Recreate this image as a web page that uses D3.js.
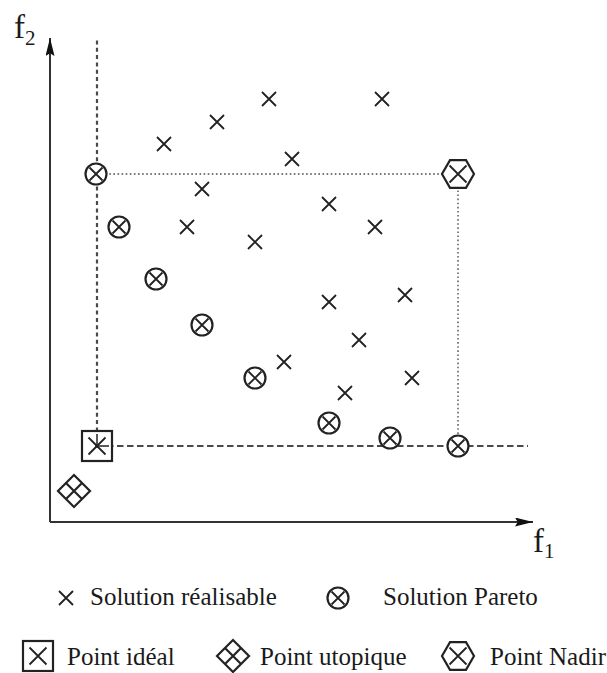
<!DOCTYPE html>
<html>
<head>
<meta charset="utf-8">
<script src="https://cdn.jsdelivr.net/npm/d3@7"></script>
<style>
body { margin: 0; background: #fff; }
svg text { font-family: "Liberation Serif", "Times New Roman", serif; fill: #1a1a1a; }
</style>
</head>
<body>
<script>
var width = 607, height = 673;
var ox = 50, oy = 522; // origin of the axes
var axisLen = 483;

// feasible solutions (f1, f2)
var realisables = [[114,378],[167,400],[219,423],[332,423],[242,363],[152,333],[279,318],[137,295],
                   [205,280],[325,295],[279,220],[355,227],[309,182],[234,160],[362,144],[295,129]];
// Pareto front
var pareto = [[46,348],[69,295],[106,243],[152,197],[205,144],[279,99],[340,84],[408,76]];
var ideal = [47, 76];
var utopique = [24, 31];
var nadir = [408, 348];
var legendLabels = ["Solution réalisable", "Solution Pareto", "Point idéal", "Point utopique", "Point Nadir"];

var x = d3.scaleLinear().domain([0, axisLen]).range([ox, ox + axisLen]);
var y = d3.scaleLinear().domain([0, axisLen]).range([oy, oy - axisLen]);

var svg = d3.select("body").append("svg")
  .attr("width", width).attr("height", height);

var defs = svg.append("defs");
defs.append("marker").attr("id", "fleche")
  .attr("viewBox", "0 0 20 10").attr("refX", 20).attr("refY", 5)
  .attr("markerWidth", 20).attr("markerHeight", 9).attr("markerUnits", "userSpaceOnUse")
  .attr("orient", "auto")
  .append("path").attr("d", "M0,0 L20,5 L0,10 L3,5 Z").attr("fill", "#111");

// axes
svg.append("line").attr("x1", x(0)).attr("y1", y(0)).attr("x2", x(0)).attr("y2", y(axisLen + 1))
  .attr("stroke", "#333").attr("stroke-width", 2).attr("marker-end", "url(#fleche)");
svg.append("line").attr("x1", x(0)).attr("y1", y(0)).attr("x2", x(axisLen)).attr("y2", y(0))
  .attr("stroke", "#333").attr("stroke-width", 2).attr("marker-end", "url(#fleche)");

// axis names: f with its index as a separate text
svg.append("text").attr("x", 14).attr("y", 38).attr("font-size", 33).text("f");
svg.append("text").attr("x", 25).attr("y", 45).attr("font-size", 21).text("2");
svg.append("text").attr("x", 533).attr("y", 552).attr("font-size", 33).text("f");
svg.append("text").attr("x", 544).attr("y", 558).attr("font-size", 21).text("1");

// dashed lines from the ideal point
svg.append("line").attr("x1", x(ideal[0])).attr("y1", y(ideal[1])).attr("x2", x(ideal[0])).attr("y2", y(484))
  .attr("stroke", "#4a4a4a").attr("stroke-width", 2.2).attr("stroke-dasharray", "4,3.3");
svg.append("line").attr("x1", x(ideal[0])).attr("y1", y(ideal[1])).attr("x2", x(478)).attr("y2", y(ideal[1]))
  .attr("stroke", "#4a4a4a").attr("stroke-width", 2.2).attr("stroke-dasharray", "6.5,3.5");
// dotted lines to the nadir point
svg.append("line").attr("x1", x(ideal[0])).attr("y1", y(nadir[1])).attr("x2", x(nadir[0])).attr("y2", y(nadir[1]))
  .attr("stroke", "#777").attr("stroke-width", 1.8).attr("stroke-dasharray", "1.6,2.5");
svg.append("line").attr("x1", x(nadir[0])).attr("y1", y(nadir[1])).attr("x2", x(nadir[0])).attr("y2", y(ideal[1]))
  .attr("stroke", "#777").attr("stroke-width", 1.8).attr("stroke-dasharray", "1.6,2.5");

var trait = "#222";

function croix(g, cx, cy, r, sw) {
  g.append("path").attr("d", "M" + (cx - r) + "," + (cy - r) + "L" + (cx + r) + "," + (cy + r) +
    "M" + (cx - r) + "," + (cy + r) + "L" + (cx + r) + "," + (cy - r))
    .attr("stroke", trait).attr("stroke-width", sw || 1.8).attr("fill", "none");
}
function otimes(g, cx, cy) {
  g.append("circle").attr("cx", cx).attr("cy", cy).attr("r", 10.5)
    .attr("fill", "#fff").attr("stroke", trait).attr("stroke-width", 2.2);
  croix(g, cx, cy, 6.5);
}
function hexagone(g, cx, cy) {
  var r = 16, pts = [];
  for (var i = 0; i < 6; i++) {
    var a = Math.PI / 3 * i;
    pts.push([cx + r * Math.cos(a), cy + r * Math.sin(a)]);
  }
  g.append("path").attr("d", "M" + pts.join("L") + "Z")
    .attr("fill", "#fff").attr("stroke", trait).attr("stroke-width", 2.2);
  croix(g, cx, cy, 8.5);
}
function carre(g, cx, cy) {
  g.append("rect").attr("x", cx - 15).attr("y", cy - 15).attr("width", 30).attr("height", 30)
    .attr("fill", "#fff").attr("stroke", trait).attr("stroke-width", 2.2);
  croix(g, cx, cy, 8.5);
}
function losange(g, cx, cy) {
  var r = 16;
  g.append("path").attr("d", "M" + cx + "," + (cy - r) + "L" + (cx + r) + "," + cy + "L" + cx + "," + (cy + r) +
    "L" + (cx - r) + "," + cy + "Z" +
    "M" + (cx - r / 2) + "," + (cy - r / 2) + "L" + (cx + r / 2) + "," + (cy + r / 2) +
    "M" + (cx - r / 2) + "," + (cy + r / 2) + "L" + (cx + r / 2) + "," + (cy - r / 2))
    .attr("fill", "#fff").attr("stroke", trait).attr("stroke-width", 2.2);
}

var pts = svg.append("g");
realisables.forEach(function(d) { croix(pts, x(d[0]), y(d[1]), 7); });
pareto.forEach(function(d) { otimes(pts, x(d[0]), y(d[1])); });
carre(pts, x(ideal[0]), y(ideal[1]));
// the dashed lines cross the ideal point
pts.append("line").attr("x1", x(ideal[0])).attr("y1", y(ideal[1]) - 12).attr("x2", x(ideal[0])).attr("y2", y(ideal[1]) + 2)
  .attr("stroke", trait).attr("stroke-width", 1.5);
pts.append("line").attr("x1", x(ideal[0]) - 2).attr("y1", y(ideal[1])).attr("x2", x(ideal[0]) + 12).attr("y2", y(ideal[1]))
  .attr("stroke", trait).attr("stroke-width", 1.5);
losange(pts, x(utopique[0]), y(utopique[1]));
hexagone(pts, x(nadir[0]), y(nadir[1]));

// legend
var fs = 25;
var leg = svg.append("g");
croix(leg, 66, 598, 7);
leg.append("text").attr("x", 90).attr("y", 605).attr("font-size", fs).text(legendLabels[0]);
otimes(leg, 338, 598);
leg.append("text").attr("x", 383).attr("y", 605).attr("font-size", fs).text(legendLabels[1]);

carre(leg, 38, 656);
leg.append("text").attr("x", 67).attr("y", 665).attr("font-size", fs).text(legendLabels[2]);
losange(leg, 233, 656);
leg.append("text").attr("x", 260).attr("y", 665).attr("font-size", fs).text(legendLabels[3]);
hexagone(leg, 458, 656);
leg.append("text").attr("x", 490).attr("y", 665).attr("font-size", fs).text(legendLabels[4]);
</script>
</body>
</html>
